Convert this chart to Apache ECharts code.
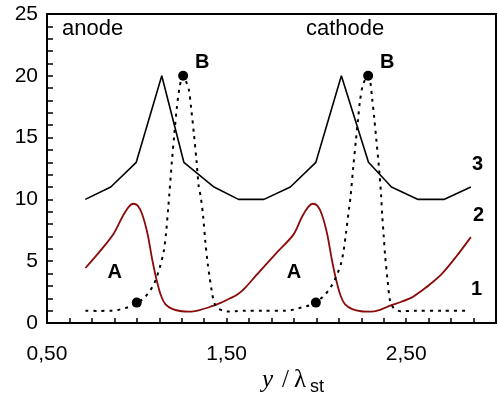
<!DOCTYPE html>
<html>
<head>
<meta charset="utf-8">
<script src="https://cdn.jsdelivr.net/npm/echarts@6/dist/echarts.min.js"></script>
<style>
  html, body { margin: 0; padding: 0; background: #fff; }
  #chart { width: 499px; height: 400px; }
</style>
</head>
<body>
<div id="chart"></div>
<script>
// Curve 1: dotted profile
var x1 = [0.714, 0.78, 0.86, 0.90, 0.935, 0.97, 1.0, 1.035, 1.063, 1.09, 1.108, 1.13, 1.15, 1.163, 1.176, 1.181,
          1.195, 1.209, 1.222, 1.236, 1.248, 1.258, 1.27, 1.29, 1.304, 1.318, 1.332, 1.345, 1.355, 1.369, 1.382,
          1.395, 1.405, 1.417, 1.427, 1.44, 1.455, 1.48, 1.5, 1.55, 1.6, 1.7, 1.83, 1.88, 1.919, 1.96, 1.997,
          2.046, 2.075, 2.101, 2.12, 2.138, 2.152, 2.165, 2.183, 2.19, 2.205, 2.22, 2.232, 2.243, 2.26, 2.288,
          2.30, 2.31, 2.322, 2.334, 2.35, 2.36, 2.367, 2.375, 2.383, 2.396, 2.41, 2.43, 2.447, 2.47, 2.55, 2.7, 2.83];
var y1 = [1.0, 0.98, 1.0, 1.08, 1.2, 1.38, 1.62, 1.95, 2.4, 3.0, 3.6, 4.6, 5.8, 7.3, 9.5, 10.4,
          13.0, 15.3, 17.3, 18.9, 19.7, 20.0, 19.7, 18.85, 17.2, 15.3, 13.2, 11.0, 10.3, 8.7, 6.5,
          4.8, 3.75, 2.6, 1.86, 1.35, 1.15, 1.0, 0.93, 0.95, 1.0, 1.0, 1.0, 1.1, 1.27, 1.42, 1.65,
          2.27, 2.8, 3.48, 4.1, 4.85, 5.9, 7.3, 9.4, 10.2, 12.6, 14.8, 16.5, 18.0, 19.3, 20.0,
          19.5, 18.2, 16.6, 14.8, 12.3, 10.4, 8.6, 7.0, 5.4, 3.5, 1.8, 1.2, 1.05, 0.95, 1.0, 1.0, 1.0];

// Curve 2: solid dark red profile
var x2 = [0.714, 0.80, 0.872, 0.92, 0.955, 0.98, 1.005, 1.03, 1.06, 1.085, 1.11, 1.135, 1.16, 1.2, 1.25, 1.29,
          1.35, 1.41, 1.47, 1.52, 1.56, 1.61, 1.664, 1.72, 1.773, 1.872, 1.92, 1.955, 1.98, 2.005, 2.03, 2.06,
          2.085, 2.11, 2.135, 2.16, 2.2, 2.25, 2.30, 2.35, 2.41, 2.47, 2.53, 2.566, 2.63, 2.70, 2.78, 2.86];
var y2 = [4.45, 5.9, 7.25, 8.6, 9.4, 9.65, 9.5, 8.8, 7.2, 5.2, 3.5, 2.2, 1.5, 1.12, 0.95, 0.92,
          1.05, 1.32, 1.65, 2.0, 2.3, 2.95, 3.85, 4.75, 5.6, 7.15, 8.6, 9.4, 9.65, 9.5, 8.8, 7.2,
          5.2, 3.5, 2.2, 1.5, 1.12, 0.95, 0.92, 1.05, 1.4, 1.7, 2.05, 2.4, 3.1, 4.0, 5.4, 6.95];

// Curve 3: black piecewise-linear profile
var x3 = [0.713, 0.855, 0.997, 1.139, 1.262, 1.43, 1.566, 1.708, 1.855, 1.997, 2.139, 2.29, 2.418, 2.566, 2.71, 2.86];
var y3 = [10, 11, 13, 20, 13, 11, 10, 10, 11, 13, 20, 13, 11, 10, 10, 11];

// Marked points A and B
var markX = [1.0, 1.258, 1.997, 2.288];
var markY = [1.65, 20, 1.65, 20];
var markNames = ['A', 'B', 'A', 'B'];

// Axis tick labels
var xTickLabels = [0.5, 1.5, 2.5];
var yTickLabels = [0, 5, 10, 15, 20, 25];

function zip(xs, ys) {
  return xs.map(function (x, i) { return [x, ys[i]]; });
}

var SANS = "'Liberation Sans', Arial, Helvetica, sans-serif";
var SERIF = "'Liberation Serif', 'DejaVu Serif', serif";
var markOffsets = { A: [-22, -30], B: [19, -13] };

var chart = echarts.init(document.getElementById('chart'), null, { renderer: 'canvas' });

chart.setOption({
  animation: false,
  backgroundColor: '#fff',
  grid: {
    left: 47, right: -5, top: 14, bottom: 77,
    show: true, borderColor: '#000', borderWidth: 2
  },
  xAxis: {
    type: 'value', min: 0.5, max: 3.0, interval: 0.125,
    axisLine: { show: true, onZero: false, lineStyle: { color: '#000', width: 2 } },
    axisTick: { show: true, inside: true, length: 5, lineStyle: { color: '#000', width: 1.5 } },
    splitLine: { show: false },
    axisLabel: {
      margin: 21, color: '#000', fontFamily: SANS, fontSize: 21,
      formatter: function (v) {
        for (var i = 0; i < xTickLabels.length; i++) {
          if (Math.abs(v - xTickLabels[i]) < 1e-6) return xTickLabels[i].toFixed(2).replace('.', ',');
        }
        return '';
      }
    }
  },
  yAxis: {
    type: 'value', min: 0, max: 25, interval: 1,
    axisLine: { show: true, onZero: false, lineStyle: { color: '#000', width: 2 } },
    axisTick: { show: true, inside: true, length: 6, lineStyle: { color: '#000', width: 1.5 } },
    splitLine: { show: false },
    axisLabel: {
      margin: 9, color: '#000', fontFamily: SANS, fontSize: 21,
      formatter: function (v) { return yTickLabels.indexOf(v) >= 0 ? String(v) : ''; }
    }
  },
  series: [
    {
      name: '3', type: 'line', data: zip(x3, y3), showSymbol: false, smooth: false,
      lineStyle: { color: '#000', width: 1.6 }
    },
    {
      name: '2', type: 'line', data: zip(x2, y2), showSymbol: false, smooth: 0.3,
      lineStyle: { color: '#8b0a0a', width: 1.8 }
    },
    {
      name: '1', type: 'line', data: zip(x1, y1), showSymbol: false, smooth: 0.3,
      lineStyle: { color: '#000', width: 2, type: [3, 5] }
    },
    {
      name: 'points', type: 'scatter', symbol: 'circle', symbolSize: 10,
      itemStyle: { color: '#000', opacity: 1 },
      data: markX.map(function (x, i) {
        return {
          value: [x, markY[i]],
          label: {
            show: true, position: 'inside', formatter: markNames[i],
            offset: markOffsets[markNames[i]],
            color: '#000', fontFamily: SANS, fontWeight: 'bold', fontSize: 20
          }
        };
      }),
      z: 5
    }
  ],
  graphic: [
    { type: 'text', left: 62, top: 18, style: { text: 'anode', fontFamily: SANS, fontSize: 22, fill: '#000' } },
    { type: 'text', left: 306, top: 18, style: { text: 'cathode', fontFamily: SANS, fontSize: 22, fill: '#000' } },
    { type: 'text', left: 472, top: 154, style: { text: '3', fontFamily: SANS, fontWeight: 'bold', fontSize: 20, fill: '#000' } },
    { type: 'text', left: 473, top: 205, style: { text: '2', fontFamily: SANS, fontWeight: 'bold', fontSize: 20, fill: '#000' } },
    { type: 'text', left: 471, top: 279, style: { text: '1', fontFamily: SANS, fontWeight: 'bold', fontSize: 20, fill: '#000' } },
    { type: 'text', left: 262, top: 368, style: { text: 'y', fontFamily: SERIF, fontStyle: 'italic', fontSize: 25, fill: '#000' } },
    { type: 'text', left: 282, top: 368, style: { text: '/', fontFamily: SERIF, fontSize: 25, fill: '#000' } },
    { type: 'text', left: 294, top: 368, style: { text: 'λ', fontFamily: SERIF, fontSize: 25, fill: '#000' } },
    { type: 'text', left: 310, top: 378, style: { text: 'st', fontFamily: SANS, fontSize: 18, fill: '#000' } }
  ]
});
</script>
</body>
</html>
